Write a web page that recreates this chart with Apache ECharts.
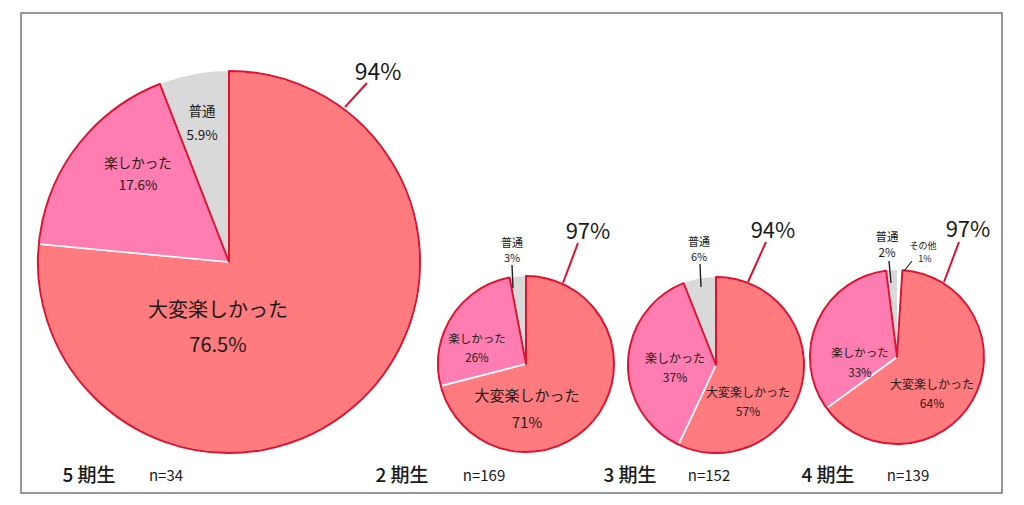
<!DOCTYPE html>
<html>
<head>
<meta charset="utf-8">
<script src="https://cdn.jsdelivr.net/npm/echarts@6/dist/echarts.min.js"></script>
<style>
html,body{margin:0;padding:0;background:#fff;}
#chart{width:1024px;height:505px;}
</style>
</head>
<body>
<div id="chart"></div>
<script>
// ---- data ----
const cohorts = ['5 期生', '2 期生', '3 期生', '4 期生'];
const sampleSizes = [34, 169, 152, 139];
const categories = ['大変楽しかった', '楽しかった', '普通', 'その他'];
const veryFun = [76.5, 71, 57, 64];
const fun = [17.6, 26, 37, 33];
const normal = [5.9, 3, 6, 2];
const other = [0, 0, 0, 1];
const enjoyedTotal = [94, 97, 94, 97];

// ---- layout / style (not data) ----
const FONT = '"Noto Sans CJK JP", "Noto Sans", sans-serif';
const RED_FILL = '#FF7B7E';
const PINK_FILL = '#FF7DB0';
const GREY_FILL = '#D9D9D9';
const OUTLINE = '#E0102E';
const TEXT = '#1a1a1a';

const pies = [
  {c: [229, 262], r: 191},
  {c: [526, 364], r: 88},
  {c: [716, 365], r: 88},
  {c: [897, 357], r: 87}
];
// [x, name y, value y, name size, value size]
const labelLayout = [
  {vf: [218, 308, 343, 20, 20], f: [138, 162, 184, 13.5, 13.5], n: [202, 110, 134, 13.5, 13.5],
   head: [378, 70, 23], headLine: [345, 107, 367, 83]},
  {vf: [527, 394, 421, 15, 15], f: [477, 338, 357, 11.5, 11.5], n: [512, 242, 257, 11, 11],
   nLine: [512, 265, 513, 288], head: [588, 229, 22], headLine: [563, 283, 578, 243]},
  {vf: [748, 391, 410, 12, 12], f: [675, 357, 376, 12, 12], n: [699, 241, 256, 11, 11],
   nLine: [700, 264, 701, 287], head: [773, 228, 22], headLine: [748, 282, 766, 242]},
  {vf: [932, 383, 402, 12, 12], f: [860, 352, 372, 11.5, 11.5], n: [887, 236, 252, 11.5, 11.5],
   nLine: [889, 261, 891, 283], o: [923, 245, 258, 9, 9], oLine: [912, 261, 904, 271],
   head: [968, 227, 22], headLine: [944, 282, 959, 242]}
];
const footer = [
  {cx: 89, nx: 166}, {cx: 402, nx: 484}, {cx: 630, nx: 709}, {cx: 828, nx: 908}
];

function fmt(v) { return v + '%'; }

const series = [];
pies.forEach((p, i) => {
  const common = {
    type: 'pie', center: p.c, radius: p.r, startAngle: 90, clockwise: true,
    silent: true, animation: false, label: {show: false}, labelLine: {show: false},
    emphasis: {disabled: true}
  };
  series.push(Object.assign({}, common, {
    data: [
      {name: categories[3], value: other[i], itemStyle: {color: '#ffffff', borderWidth: 0}},
      {name: categories[0], value: veryFun[i], itemStyle: {color: RED_FILL, borderColor: '#ffffff', borderWidth: 1.6}},
      {name: categories[1], value: fun[i], itemStyle: {color: PINK_FILL, borderColor: '#ffffff', borderWidth: 1.6}},
      {name: categories[2], value: normal[i], itemStyle: {color: GREY_FILL, borderWidth: 0}}
    ]
  }));
  series.push(Object.assign({}, common, {
    data: [
      {name: 'o', value: other[i], itemStyle: {color: 'rgba(0,0,0,0)', borderWidth: 0}},
      {name: 'g', value: veryFun[i] + fun[i], itemStyle: {color: 'rgba(0,0,0,0)', borderColor: OUTLINE, borderWidth: 2, borderJoin: 'round'}},
      {name: 'n', value: normal[i], itemStyle: {color: 'rgba(0,0,0,0)', borderWidth: 0}}
    ]
  }));
});

const graphics = [];
function txt(text, x, y, size, weight) {
  graphics.push({
    type: 'text', silent: true, z: 100,
    style: {
      text: text, x: x, y: y, fill: TEXT,
      font: (weight || 'normal') + ' ' + size + 'px ' + FONT,
      textAlign: 'center', textVerticalAlign: 'middle', align: 'center', verticalAlign: 'middle'
    }
  });
}
function line(pts, color, w) {
  graphics.push({
    type: 'line', silent: true, z: 100,
    shape: {x1: pts[0], y1: pts[1], x2: pts[2], y2: pts[3]},
    style: {stroke: color, lineWidth: w}
  });
}

// border
graphics.push({
  type: 'rect', silent: true, z: 0,
  shape: {x: 21, y: 13, width: 981, height: 480},
  style: {fill: 'none', stroke: '#777777', lineWidth: 1.5}
});

labelLayout.forEach((L, i) => {
  txt(categories[0], L.vf[0], L.vf[1], L.vf[3], 'normal');
  txt(fmt(veryFun[i]), L.vf[0], L.vf[2], L.vf[4], 'normal');
  txt(categories[1], L.f[0], L.f[1], L.f[3], 'normal');
  txt(fmt(fun[i]), L.f[0], L.f[2], L.f[4], 'normal');
  txt(categories[2], L.n[0], L.n[1], L.n[3], 'normal');
  txt(fmt(normal[i]), L.n[0], L.n[2], L.n[4], 'normal');
  if (L.nLine) line(L.nLine, '#222222', 1.4);
  if (L.o && other[i] > 0) {
    txt(categories[3], L.o[0], L.o[1], L.o[3], 'normal');
    txt(fmt(other[i]), L.o[0] + 2, L.o[2], L.o[4], 'normal');
    line(L.oLine, '#222222', 1.2);
  }
  txt(fmt(enjoyedTotal[i]), L.head[0], L.head[1], L.head[2], 'normal');
  line(L.headLine, OUTLINE, 2);
  txt(cohorts[i], footer[i].cx, 473, 19, '500');
  txt('n=' + sampleSizes[i], footer[i].nx, 474, 15, 'normal');
});

const chart = echarts.init(document.getElementById('chart'), null, {renderer: 'svg'});
chart.setOption({
  backgroundColor: '#ffffff',
  animation: false,
  series: series,
  graphic: {elements: graphics}
});
</script>
</body>
</html>
